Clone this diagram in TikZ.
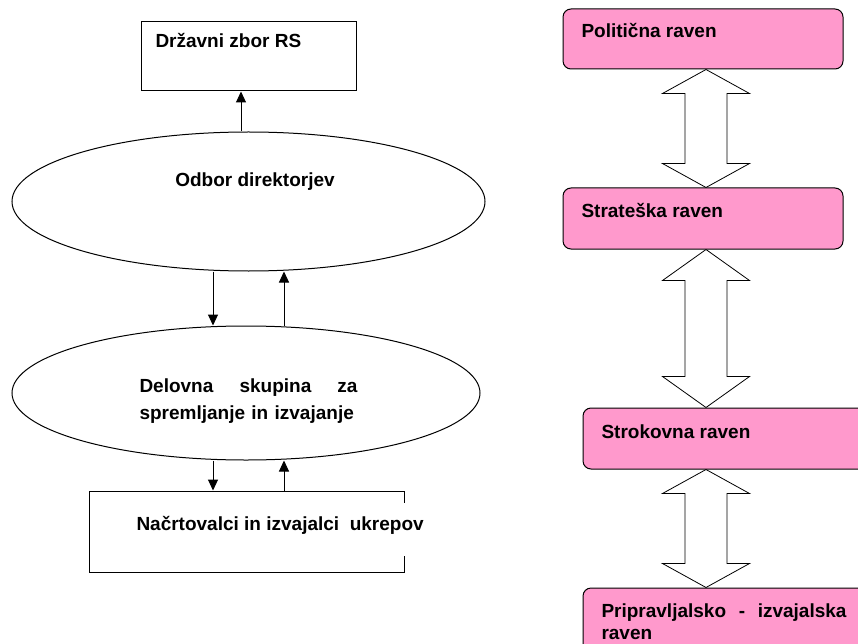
\documentclass[tikz,border=0pt]{standalone}
\usepackage{fontspec}
\setmainfont{Liberation Sans}
\usetikzlibrary{shapes.geometric,arrows.meta,calc,positioning}
\definecolor{levelpink}{RGB}{255,153,204}

\begin{document}
\begin{tikzpicture}[x=1pt, y=-1pt, line width=1pt,
    font=\fontsize{19}{27}\selectfont\bfseries,
    box/.style={rectangle, draw, inner sep=0pt},
    oval/.style={ellipse, draw, inner sep=0pt},
    level/.style={rectangle, draw, fill=levelpink, rounded corners=8pt, inner sep=0pt},
    txt/.style={inner sep=0pt, anchor=base west},
    arr/.style={-{Triangle[length=11pt,width=10pt]}},
    dblarrow/.style={draw, fill=white, line width=0.8pt,
      to path={let \p1=(\tikztostart), \p2=(\tikztotarget) in
        -- (\x1+43.5pt,\y1-#1) -- (\x1+21pt,\y1-#1) -- (\x1+21pt,\y2+#1) -- (\x1+43.5pt,\y2+#1)
        -- (\x2,\y2) -- (\x1-43.5pt,\y2+#1) -- (\x1-21pt,\y2+#1) -- (\x1-21pt,\y1-#1)
        -- (\x1-43.5pt,\y1-#1) -- cycle}}]
    \useasboundingbox (0,0) rectangle (858,644);
    \clip (0,0) rectangle (858,644);

    % left: organisation
    \node [box, minimum width=215pt, minimum height=69pt] (zbor) at (248.5,56.5) {};
    \node [txt] (zbor-txt) at (155,48) {Državni zbor RS};
    \node [oval, minimum width=473pt, minimum height=139pt] (odbor) at (248.5,201.5) {};
    \node [txt, anchor=base] (odbor-txt) at (255,187) {Odbor direktorjev};
    \node [oval, minimum width=468pt, minimum height=134pt] (delovna) at (246,393) {};
    \node [txt, anchor=north west, text width=218pt, align=left] (delovna-txt) at (139,378.4)
          {Delovna\hfill skupina\hfill za\\spremljanje in izvajanje};
    \node [box, minimum width=315pt, minimum height=81pt] (nacrt) at (246.5,531.5) {};
    \node [txt, fill=white, text height=27pt, text depth=26pt] (nacrt-txt) at (136,530)
          {Načrtovalci in izvajalci\ \ ukrepov};

    \draw [arr] ([xshift=-7.5pt]odbor.north) -- ([xshift=-7.5pt]odbor.north |- zbor.south);
    \draw [arr] ([xshift=-35.5pt]odbor.south) -- ([xshift=-35.5pt]odbor.south |- delovna.north);
    \draw [arr] ([xshift=35.5pt]odbor.south |- delovna.north) -- ([xshift=35.5pt]odbor.south);
    \draw [arr] ([xshift=-33pt]delovna.south) -- ([xshift=-33pt]delovna.south |- nacrt.north);
    \draw [arr] ([xshift=38pt]delovna.south |- nacrt.north) -- ([xshift=38pt]delovna.south);

    % right: levels
    \coordinate (axis) at (706,0);
    \node [level, minimum width=280pt, minimum height=60pt] (politicna) at (703,39) {};
    \node [txt] (politicna-txt) at (581,38) {Politična raven};
    \node [level, minimum width=280pt, minimum height=61pt] (strateska) at (703,218.5) {};
    \node [txt] (strateska-txt) at (581,218) {Strateška raven};
    \node [level, minimum width=287pt, minimum height=61pt] (strokovna) at (726.5,438.5) {};
    \node [txt] (strokovna-txt) at (601,438) {Strokovna raven};
    \node [level, minimum width=287pt, minimum height=70pt] (pripravljalsko) at (726.5,623) {};
    \node [txt, anchor=north west, text width=245pt, align=left,
           font=\fontsize{19}{22}\selectfont\bfseries] (pripravljalsko-txt) at (601,603.4)
          {Pripravljalsko\hfill -\hfill izvajalska\\raven};

    \draw [dblarrow=24pt] (politicna.south -| axis) to (strateska.north -| axis);
    \draw [dblarrow=31pt] (strateska.south -| axis) to (strokovna.north -| axis);
    \draw [dblarrow=24pt] (strokovna.south -| axis) to (pripravljalsko.north -| axis);
\end{tikzpicture}
\end{document}
